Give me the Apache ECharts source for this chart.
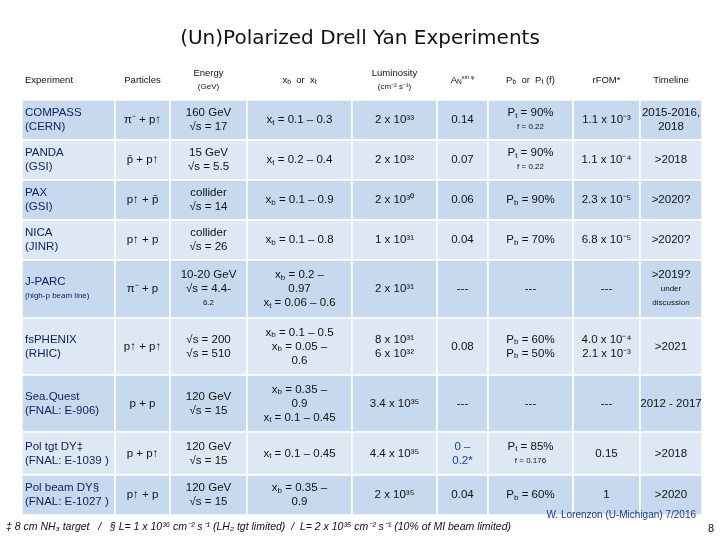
<!DOCTYPE html>
<html><head><meta charset="utf-8">
<script src="https://cdn.jsdelivr.net/npm/echarts@6/dist/echarts.min.js"></script>
<style>html,body{margin:0;background:#fff}#c{width:720px;height:540px}</style>
</head><body><div id="c"></div>
<script>
const headers = ["Experiment","Particles","Energy\n{s|(GeV)}","x{b|b}  or  x{b|t}","Luminosity\n{s|(cm⁻² s⁻¹)}","A{b|N}{p|sin φ}","P{b|b}  or  P{b|t} (f)","rFOM*","Timeline"];
const experiments = ["COMPASS\n(CERN)","PANDA\n(GSI)","PAX\n(GSI)","NICA\n(JINR)","J-PARC\n{s|(high-p beam line)}","fsPHENIX\n(RHIC)","Sea.Quest\n(FNAL: E-906)","Pol tgt DY‡\n(FNAL: E-1039 )","Pol beam DY§\n(FNAL: E-1027 )"];
const particles = ["π⁻ + p↑","p̄ + p↑","p↑ + p̄","p↑ + p","π⁻ + p","p↑ + p↑","p + p","p + p↑","p↑ + p"];
const energy = ["160 GeV\n√s = 17","15 GeV\n√s = 5.5","collider\n√s = 14","collider\n√s = 26","10-20 GeV\n√s = 4.4-\n{s|6.2}","√s = 200\n√s = 510","120 GeV\n√s = 15","120 GeV\n√s = 15","120 GeV\n√s = 15"];
const xrange = ["x{b|t} = 0.1 – 0.3","x{b|t} = 0.2 – 0.4","x{b|b} = 0.1 – 0.9","x{b|b} = 0.1 – 0.8","x{b|b} = 0.2 –\n0.97\nx{b|t} = 0.06 – 0.6","x{b|b} = 0.1 – 0.5\nx{b|b} = 0.05 –\n0.6","x{b|b} = 0.35 –\n0.9\nx{b|t} = 0.1 – 0.45","x{b|t} = 0.1 – 0.45","x{b|b} = 0.35 –\n0.9"];
const lumi = ["2 x 10³³","2 x 10³²","2 x 10³⁰","1 x 10³¹","2 x 10³¹","8 x 10³¹\n6 x 10³²","3.4 x 10³⁵","4.4 x 10³⁵","2 x 10³⁵"];
const asym = ["0.14","0.07","0.06","0.04","---","0.08","---","{r|0 –}\n{r|0.2*}","0.04"];
const pol = ["P{b|t} = 90%\n{s|f = 0.22}","P{b|t} = 90%\n{s|f = 0.22}","P{b|b} = 90%","P{b|b} = 70%","---","P{b|b} = 60%\nP{b|b} = 50%","---","P{b|t} = 85%\n{s|f = 0.176}","P{b|b} = 60%"];
const rfom = ["1.1 x 10⁻³","1.1 x 10⁻⁴","2.3 x 10⁻⁵","6.8 x 10⁻⁵","---","4.0 x 10⁻⁴\n2.1 x 10⁻³","---","0.15","1"];
const timeline = ["2015-2016,\n2018",">2018",">2020?",">2020?",">2019?\n{s|under}\n{s|discussion}",">2021","2012 - 2017",">2018",">2020"];
const cols = [experiments,particles,energy,xrange,lumi,asym,pol,rfom,timeline];
// layout (relative column widths and row heights)
const colW = [93,55,77,105,85,51,85,67,62];
const rowH = [40,40,40,40,40,58,57,57,43,40];
const cx=[0], ry=[0];
colW.forEach(w=>cx.push(cx[cx.length-1]+w));
rowH.forEach(h=>ry.push(ry[ry.length-1]+h));
const data = [];
cols.forEach((col,ci)=>{
  data.push([cx[ci],ry[0],cx[ci+1],ry[1],ci,0,headers[ci]]);
  col.forEach((v,ri)=>data.push([cx[ci],ry[ri+1],cx[ci+1],ry[ri+2],ci,ri+1,v]));
});
const rowFill = ["#ffffff","#c6d9ee","#dde8f4","#c6d9ee","#dde8f4","#c6d9ee","#dde8f4","#c6d9ee","#dde8f4","#c6d9ee"];
const chart = echarts.init(document.getElementById('c'));
chart.setOption({
  title:{text:"(Un)Polarized Drell Yan Experiments",left:"center",top:24,textStyle:{fontFamily:"DejaVu Sans",fontSize:20,fontWeight:"normal",color:"#111"}},
  grid:{left:22,right:18,top:60,bottom:25},
  xAxis:{type:"value",min:0,max:cx[cx.length-1],show:false},
  yAxis:{type:"value",min:0,max:ry[ry.length-1],inverse:true,show:false},
  series:[{type:"custom",data:data,renderItem:(params,api)=>{
    const d=data[params.dataIndex];
    const p0=api.coord([d[0],d[1]]), p1=api.coord([d[2],d[3]]);
    const ci=d[4], ri=d[5], txt=d[6];
    const left = ci===0, hdr = ri===0;
    const fs = hdr?9.5:11.5;
    return {type:"group",children:[
      {type:"rect",shape:{x:p0[0],y:p0[1],width:p1[0]-p0[0],height:p1[1]-p0[1]},style:{fill:rowFill[ri],stroke:"#ffffff",lineWidth:1.5}},
      {type:"text",x:left?p0[0]+3:(p0[0]+p1[0])/2,y:(p0[1]+p1[1])/2,style:{text:txt,align:left?"left":"center",verticalAlign:"middle",
        fontFamily:"Liberation Sans",fontSize:fs,lineHeight:hdr?13:14,
        fill:left&&!hdr?"#0d1f5c":"#111",
        rich:{b:{fontSize:fs*0.7,padding:[5,0,0,0],fontFamily:"Liberation Sans"},
              p:{fontSize:fs*0.6,padding:[0,0,6,0],fontFamily:"Liberation Sans"},
              s:{fontSize:8,fontFamily:"Liberation Sans",fill:left?"#0d1f5c":"#111"},
              r:{fontSize:11.5,fill:"#1a3ab0",fontFamily:"Liberation Sans"}}}}
    ]};
  }}],
  graphic:[
    {type:"text",right:24,top:510,z:100,style:{text:"W. Lorenzon (U-Michigan) 7/2016",fontSize:10,fill:"#1a3a8a",fontFamily:"Liberation Sans"}},
    {type:"text",right:6,top:523,z:100,style:{text:"8",fontSize:11,fill:"#111"}},
    {type:"text",left:6,top:522,z:100,style:{text:"‡ 8 cm NH₃ target   /   § L= 1 x 10³⁶ cm⁻² s⁻¹ (LH₂ tgt limited)  /  L= 2 x 10³⁵ cm⁻² s⁻¹ (10% of MI beam limited)",fontSize:10.5,fontStyle:"italic",fill:"#111",fontFamily:"Liberation Sans"}}
  ]
});
</script></body></html>
